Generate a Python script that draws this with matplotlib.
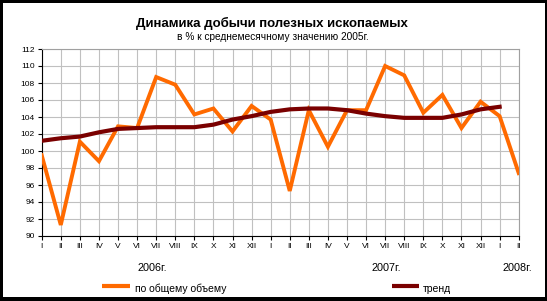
import matplotlib.pyplot as plt
from matplotlib.patches import Rectangle

months = ['I', 'II', 'III', 'IV', 'V', 'VI', 'VII', 'VIII', 'IX', 'X', 'XI', 'XII',
          'I', 'II', 'III', 'IV', 'V', 'VI', 'VII', 'VIII', 'IX', 'X', 'XI', 'XII',
          'I', 'II']
total = [99.5, 91.3, 101.1, 98.8, 102.9, 102.7, 108.7, 107.8, 104.3, 105.0, 102.3, 105.3,
         103.7, 95.3, 104.8, 100.5, 104.8, 104.8, 110.0, 108.9, 104.5, 106.6, 102.7, 105.8,
         104.1, 97.4]
trend = [101.2, 101.5, 101.7, 102.2, 102.6, 102.7, 102.8, 102.8, 102.8, 103.1, 103.7, 104.1,
         104.6, 104.9, 105.0, 105.0, 104.8, 104.4, 104.1, 103.9, 103.9, 103.9, 104.3, 104.9,
         105.2]
years = ['2006г.', '2007г.', '2008г.']

plt.rcParams['font.family'] = ['Liberation Sans', 'DejaVu Sans']

W, H = 547, 301
fig = plt.figure(figsize=(W / 100, H / 100), dpi=100, facecolor='black')
# white card inside a black frame
fig.patches.append(Rectangle((3 / W, 4 / H), 542 / W, 294 / H, transform=fig.transFigure,
                             facecolor='white', edgecolor='none', zorder=-1))

ax = fig.add_axes([41.7 / W, 1 - 236 / H, 477 / W, 187 / H])
x = list(range(len(months)))
ax.plot(x, total, color='#ff6a00', lw=2.8, solid_joinstyle='miter', zorder=3)
ax.plot(x[:len(trend)], trend, color='#7a0000', lw=3.0, zorder=4)

ax.set_xlim(0, len(months) - 1)
ax.set_ylim(90, 112)
ax.set_yticks(range(90, 113, 2))
ax.set_xticks(x)
ax.set_xticklabels(months)
ax.tick_params(axis='both', labelsize=6, length=3, width=0.8, color='black', pad=2)
ax.grid(True, color='#c0c0c0', lw=0.8)
ax.set_axisbelow(True)
for s in ['top', 'right']:
    ax.spines[s].set_color('#a0a0a0')
for s in ['left', 'bottom']:
    ax.spines[s].set_color('black')
    ax.spines[s].set_linewidth(0.8)

fig.text(272 / W, 1 - 23 / H, 'Динамика добычи полезных ископаемых', ha='center', va='center',
         fontsize=9.5, fontweight='bold')
fig.text(273 / W, 1 - 37 / H, 'в % к среднемесячному значению 2005г.', ha='center', va='center',
         fontsize=7.3)

for label, px in zip(years, [152, 386, 517]):
    fig.text(px / W, 1 - 268 / H, label, ha='center', va='center', fontsize=7.8)

# legend
fig.lines.append(plt.Line2D([102 / W, 130 / W], [1 - 286 / H] * 2, transform=fig.transFigure,
                            color='#ff6a00', lw=3, solid_capstyle='butt'))
fig.text(135 / W, 1 - 289 / H, 'по общему объему', ha='left', va='center', fontsize=7.5)
fig.lines.append(plt.Line2D([392 / W, 419 / W], [1 - 286 / H] * 2, transform=fig.transFigure,
                            color='#7a0000', lw=3, solid_capstyle='butt'))
fig.text(423 / W, 1 - 289 / H, 'тренд', ha='left', va='center', fontsize=7.5)

fig.savefig('out.png', dpi=100, facecolor='black')
